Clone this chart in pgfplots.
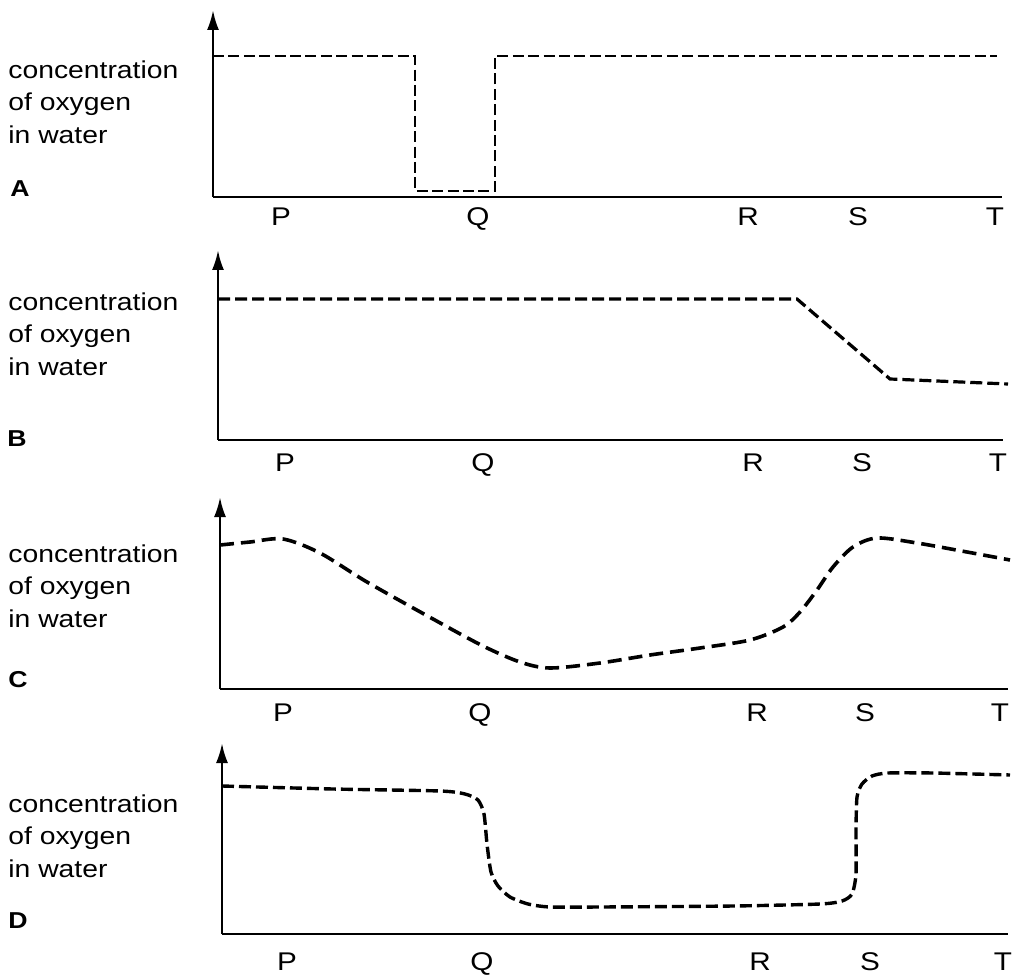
\documentclass[border=0pt]{standalone}
\usepackage{pgfplots}
\pgfplotsset{compat=1.18}
\usepackage{fontspec}
\setmainfont{Liberation Sans}[FakeStretch=1.16]
\usetikzlibrary{arrows.meta}
\newcommand{\lblfont}{\fontsize{12.2}{14}\selectfont}
\newcommand{\letfont}{\fontsize{11.5}{13}\selectfont\bfseries}
\pgfplotsset{panel/.style={
  scale only axis, clip=false,
  axis x line=bottom, axis y line=left,
  axis line style={line width=1.3pt, black},
  x axis line style={-},
  y axis line style={-{Latex[length=10pt,width=6pt]}},
  ytick=\empty, major tick length=0pt,
  xticklabel style={font=\fontsize{12.8}{14}\selectfont, inner sep=0pt, anchor=north},
  xticklabels={P,Q,R,S,T},
  ymin=0, anchor=south west,
}}
\begin{document}
\begin{tikzpicture}
\useasboundingbox (0,0) rectangle (506pt,-489pt);
% ---------- A ----------
\begin{axis}[panel, at={(106.5pt,-98.5pt)}, xmin=213, xmax=1002, ymax=187,
  width=394.5pt, height=93.5pt,
  xtick={281,478,748,858,995}, xticklabel style={yshift=-5pt}]
\addplot[black, line width=1.4pt, dash pattern=on 5.5pt off 2.2pt] coordinates {
(213,141) (415,141) (415,6) (495,6) (495,141) (997,141)};
\end{axis}
% ---------- B ----------
\begin{axis}[panel, at={(109pt,-220pt)}, xmin=218, xmax=1003, ymax=190,
  width=392.5pt, height=95pt,
  xtick={285,483,753,862,998}, xticklabel style={yshift=-6.5pt}]
\addplot[black, line width=1.6pt, dash pattern=on 6pt off 2.5pt] coordinates {
(218,141) (797,141) (890,61) (1008,56)};
\end{axis}
% ---------- C ----------
\begin{axis}[panel, at={(110pt,-344.5pt)}, xmin=220, xmax=1008, ymax=192,
  width=394pt, height=96pt,
  xtick={283,480,757,865,1000}, xticklabel style={yshift=-7pt}]
\addplot[black, line width=1.8pt, dash pattern=on 7pt off 3.5pt, smooth, tension=0.5] coordinates {
(220,144) (250,147) (283,150) (320,136) (367,107) (433,70) (483,43) (520,27)
(550,21) (600,26) (650,34) (700,41) (750,49) (783,62) (800,77) (817,99)
(833,122) (853,142) (877,151) (917,146) (967,137) (1010,129)};
\end{axis}
% ---------- D ----------
\begin{axis}[panel, at={(111pt,-467pt)}, xmin=222, xmax=1008, ymax=191,
  width=393pt, height=95.5pt,
  xtick={287,482,760,870,1003}, xticklabel style={yshift=-9pt}]
\addplot[black, line width=1.7pt, dash pattern=on 6pt off 2.5pt, smooth, tension=0.4] coordinates {
(222,148) (333,145) (440,143) (465,140) (478,134) (484,120) (487,90)
(491,62) (498,48) (510,37) (528,30) (550,27) (600,27) (733,28) (820,30)
(842,33) (852,40) (856,60) (856,104) (857,137) (862,150) (872,158)
(888,161) (933,161) (1010,159)};
\end{axis}
% ---------- left labels ----------
\foreach \b in {79, 311, 562, 812}{
  \node[anchor=base west, inner sep=0pt, font=\lblfont] at ({4pt},{-(\b)*0.5pt}) {concentration};
  \node[anchor=base west, inner sep=0pt, font=\lblfont] at ({4pt},{-(\b+32)*0.5pt}) {of oxygen};
  \node[anchor=base west, inner sep=0pt, font=\lblfont] at ({4pt},{-(\b+65)*0.5pt}) {in water};
}
\node[anchor=base west, inner sep=0pt, font=\letfont] at (5pt,-98.5pt) {A};
\node[anchor=base west, inner sep=0pt, font=\letfont] at (3.5pt,-223.5pt) {B};
\node[anchor=base west, inner sep=0pt, font=\letfont] at (4pt,-343.5pt) {C};
\node[anchor=base west, inner sep=0pt, font=\letfont] at (4pt,-464pt) {D};
\end{tikzpicture}
\end{document}
